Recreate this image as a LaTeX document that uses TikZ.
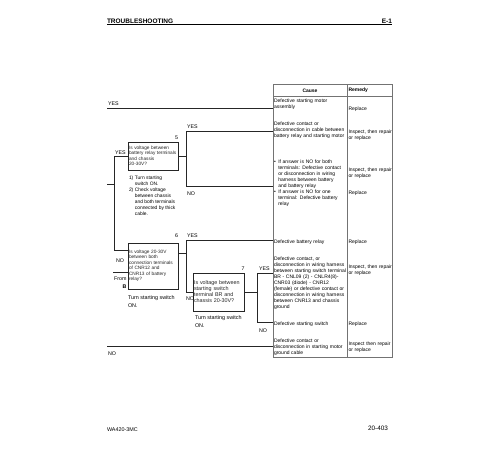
\documentclass[tikz,border=0pt]{standalone}
\usepackage{fontspec}
\setmainfont{Liberation Sans}
\usetikzlibrary{calc}
\begin{document}
\begin{tikzpicture}[x=1pt,y=-1pt,
  every node/.style={inner sep=0pt,outer sep=0pt},
  conn/.style={line width=0.6pt,black!85},
  qbox/.style={draw,line width=0.75pt,black!85,inner xsep=1pt,inner ysep=0pt,align=left},
  tbl/.style={line width=0.9pt,black!55},
  lbl/.style={font=\fontsize{5.3}{6}\selectfont,anchor=base west},
  num/.style={font=\fontsize{5.3}{6}\selectfont,anchor=base east},
  stxt/.style={font=\fontsize{4.75}{5.5}\selectfont},
  btxt/.style={font=\fontsize{5.4}{6}\selectfont},
  ctxt/.style={font=\fontsize{5}{6}\selectfont,anchor=north west,align=left,text width=73pt},
  rtxt/.style={font=\fontsize{5}{6}\selectfont,anchor=north west,align=left,text width=44pt},
  note/.style={font=\fontsize{5.4}{7.3}\selectfont,anchor=north west,align=left}
]
\useasboundingbox (0,0) rectangle (500,450);
\fill[white] (0,0) rectangle (500,450);

% header and footer
\node[font=\bfseries\fontsize{6.5}{7}\selectfont,anchor=base west] (title) at (107,23) {TROUBLESHOOTING};
\node[font=\bfseries\fontsize{6.5}{7}\selectfont,anchor=base east] (sec) at (392,23) {E-1};
\draw[line width=1.1pt] (107,24.7) -- (392,24.7);
\node[font=\fontsize{5.4}{6}\selectfont,anchor=base west] (model) at (107,431) {WA420-3MC};
\node[font=\fontsize{6.4}{7}\selectfont,anchor=base east] (page) at (388,430.5) {20-403};

% table
\draw[tbl] (273,84) rectangle (392,357);
\draw[tbl] (347,84) -- (347,357);
\draw[tbl] (273,96) -- (392,96);
\node[font=\bfseries\fontsize{5}{6}\selectfont] (hc) at (310,90.3) {Cause};
\node[font=\bfseries\fontsize{5}{6}\selectfont,anchor=west] (hr) at (348.5,90.3) {Remedy};

\node[ctxt] (c1) at (274,99) {Defective starting motor\\assembly};
\node[ctxt] (c2) at (274,122) {Defective contact or\\disconnection in cable between\\battery relay and starting motor};
\node[ctxt] (c3) at (274,159) {\begin{tabular}{@{}l@{\hspace{2.5pt}}l@{}}
\textbullet & If answer is NO for both\\
 & terminals: Defective contact\\
 & or disconnection in wiring\\
 & harness between battery\\
 & and battery relay\\
\textbullet & If answer is NO for one\\
 & terminal: Defective battery\\
 & relay\end{tabular}};
\node[ctxt] (c4) at (274,240) {Defective battery relay};
\node[ctxt] (c5) at (274,257) {Defective contact, or\\disconnection in wiring harness\\between starting switch terminal\\BR - CNL09 (2) - CNLR4(8)-\\CNR03 (diode) - CNR12\\(female) or defective contact or\\disconnection in wiring harness\\between CNR13 and chassis\\ground};
\node[ctxt] (c6) at (274,322) {Defective starting switch};
\node[ctxt] (c7) at (274,339) {Defective contact or\\disconnection in starting motor\\ground cable};

\node[rtxt] (r1) at (348.5,107) {Replace};
\node[rtxt] (r2) at (348.5,130) {Inspect, then repair\\or replace};
\node[rtxt] (r3) at (348.5,168) {Inspect, then repair\\or replace};
\node[rtxt] (r3b) at (348.5,191) {Replace};
\node[rtxt] (r4) at (348.5,240) {Replace};
\node[rtxt] (r5) at (348.5,265) {Inspect, then repair\\or replace};
\node[rtxt] (r6) at (348.5,322) {Replace};
\node[rtxt] (r7) at (348.5,342) {Inspect then repair\\or replace};

% connector ends on the table
\coordinate (t1) at (273,108);
\coordinate (t2) at (273,131);
\coordinate (t3) at (273,186);
\coordinate (t4) at (273,240);
\coordinate (t5) at (273,273);
\coordinate (t6) at (273,322);
\coordinate (t7) at (273,346);

% question boxes
\node[qbox,stxt,text width=48pt,minimum width=50pt,minimum height=28pt] (q5) at (153,156)
  {Is voltage between\\battery relay terminals\\and chassis\\20-30V?};
\node[qbox,stxt,text width=48pt,minimum width=50pt,minimum height=46pt] (q6) at (153,266)
  {Is voltage 20-30V\\between both\\connection terminals\\of CNR12 and\\CNR13 of battery\\relay?};
\node[qbox,btxt,text width=49pt,minimum width=51pt,minimum height=38pt] (q7) at (218.5,292)
  {Is voltage between\\starting switch\\terminal BR and\\chassis 20-30V?};

\node[num] (n5) at (178,139) {5};
\node[num] (n6) at (178,237) {6};
\node[num] (n7) at (244.5,270) {7};

\node[font=\fontsize{4.9}{6}\selectfont,anchor=north west] (s5) at (129,175.5)
  {\begin{tabular}{@{}l@{\hspace{1.5pt}}l@{}}
  1) & Turn starting\\
     & switch ON.\\
  2) & Check voltage\\
     & between chassis\\
     & and both terminals\\
     & connected by thick\\
     & cable.\end{tabular}};
\node[note] (s6) at (128,296) {Turn starting switch\\ON.};
\node[note] (s7) at (195,316) {Turn starting switch\\ON.};

% connectors
\coordinate (inY) at (107,108);
\coordinate (inN) at (107,346);
\coordinate (in4) at (107,184);
\coordinate (sp) at (114,184);
\coordinate (fromB) at (113,272.5);
\coordinate (v5t) at (186,131);
\coordinate (v5b) at (186,186);
\coordinate (v6t) at (186,240);
\coordinate (j6) at (186,253);
\coordinate (v7t) at (257,273);
\coordinate (v7b) at (257,322);

\draw[conn] (inY) -- (t1);
\draw[conn] (inN) -- (t7);
\draw[conn] (in4) -- (sp);
\draw[conn] (q5.west) -| (sp);
\draw[conn] ($(q6.north west)+(0,7)$) -| (sp);
\draw[conn] (fromB) -- (fromB -| q6.west);
\draw[conn] (q5.east) -- (q5.east -| v5t);
\draw[conn] (t2) -- (v5t) -- (v5b) -- (t3);
\draw[conn] (j6 -| q6.east) -- (j6);
\draw[conn] (t4) -- (v6t) |- (q7.west);
\draw[conn] (q7.east) -- (q7.east -| v7t);
\draw[conn] (t5) -- (v7t) -- (v7b) -- (t6);

% labels
\node[lbl] (lyes1) at (108,105) {YES};
\node[lbl] (lyes5) at (187,128) {YES};
\node[lbl] (lyesL) at (115,154) {YES};
\node[lbl] (lno5) at (187,195) {NO};
\node[lbl] (lyes6) at (187,237) {YES};
\node[lbl] (lnoL) at (116,262) {NO};
\node[font=\fontsize{5.3}{7.5}\selectfont,anchor=north east,align=right] (from) at (126.5,277) {From\\\textbf{B}};
\node[lbl] (lno6) at (186,300) {NO};
\node[lbl] (lyes7) at (259,270) {YES};
\node[lbl] (lno7) at (259,332) {NO};
\node[lbl] (lnoB) at (108,355) {NO};
\end{tikzpicture}
\end{document}
